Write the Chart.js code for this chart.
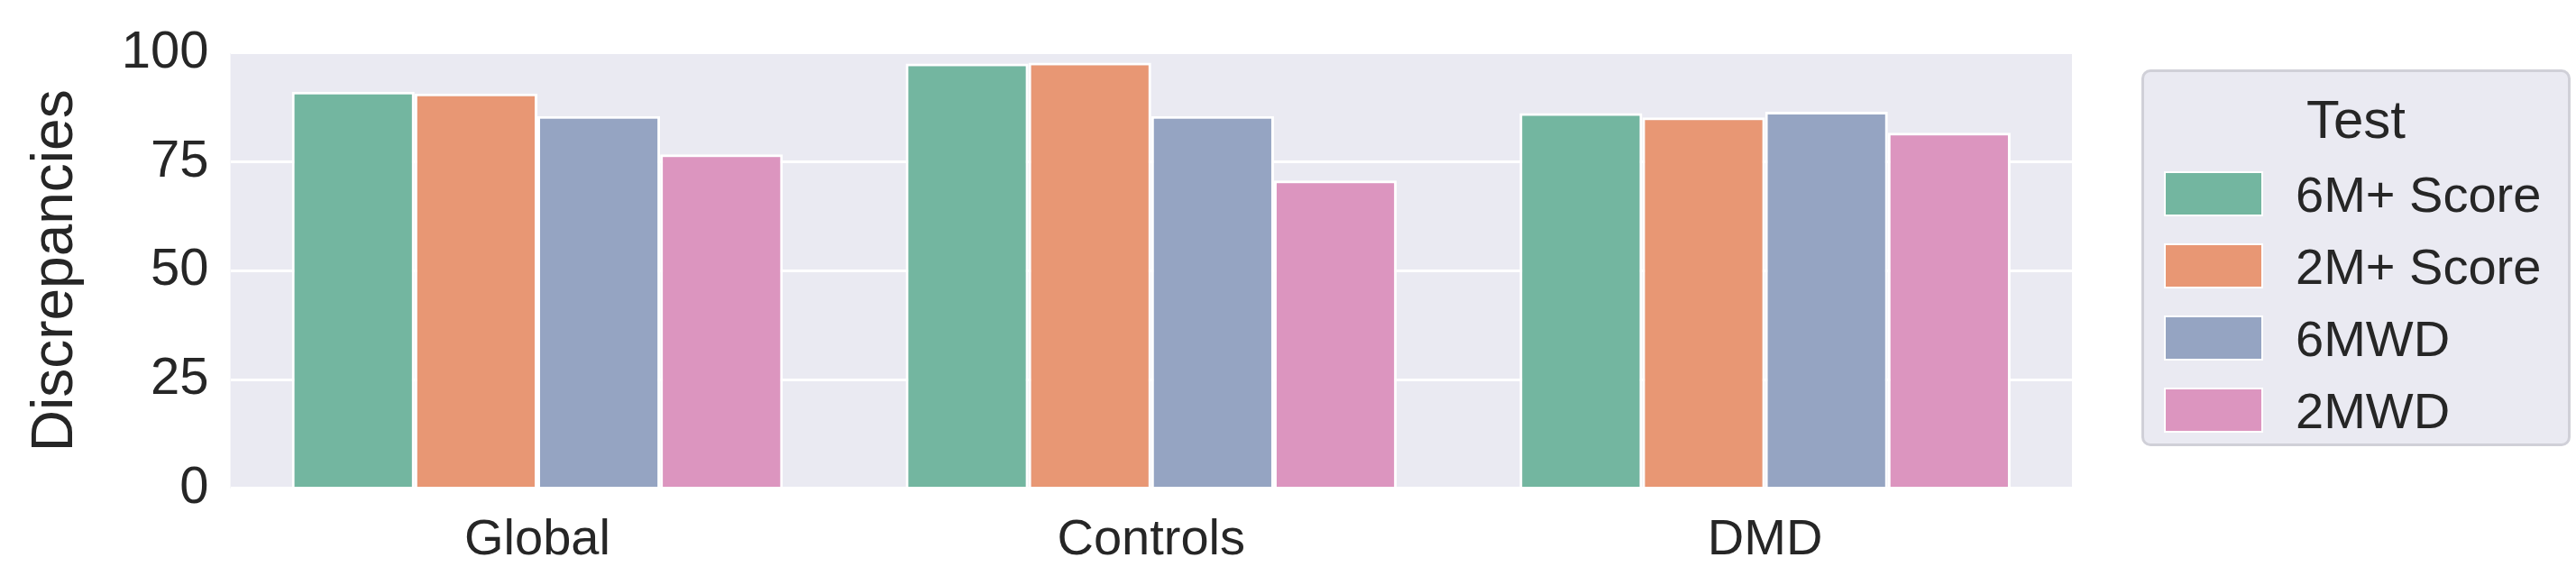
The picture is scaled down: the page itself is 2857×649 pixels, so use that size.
<!DOCTYPE html>
<html>
<head>
<script src="https://cdn.jsdelivr.net/npm/chart.js@4/dist/chart.umd.min.js"></script>
<style>
  body { margin: 0; background: #fff; }
  #wrap { position: relative; width: 2857px; height: 649px; }
  #legend {
    position: absolute; left: 2375px; top: 77px; width: 476px; height: 418px;
    box-sizing: border-box; border: 3px solid #d0d0d8; border-radius: 10px; background: #eaeaf2;
    font-family: "Liberation Sans", Arial, sans-serif; color: #262626; font-size: 56px;
  }
  #legend .title { text-align: center; font-size: 60px; margin-top: 18px; margin-bottom: 8px; }
  #legend .item { display: flex; align-items: center; height: 80px; padding-left: 22px; }
  #legend .sw { width: 110px; height: 50px; margin-right: 36px; border: 2px solid #fff; box-sizing: border-box; }
</style>
</head>
<body>
<div id="wrap">
  <canvas id="c" width="2857" height="649"></canvas>
  <div id="legend"></div>
</div>
<script>
const groups = ['Global', 'Controls', 'DMD'];
const tests = ['6M+ Score', '2M+ Score', '6MWD', '2MWD'];
const colors = ['#73b6a0', '#e89774', '#95a4c2', '#dc95bf'];
const score6 = [91.1, 97.6, 86.2];
const score2 = [90.7, 97.8, 85.2];
const mwd6 = [85.5, 85.5, 86.5];
const mwd2 = [76.7, 70.7, 81.7];
const yTicks = [0, 25, 50, 75, 100];

const series = [score6, score2, mwd6, mwd2];
const font = "'Liberation Sans', Arial, sans-serif";

// grey plot background like seaborn darkgrid
const plotBg = {
  id: 'plotBg',
  beforeDraw(chart) {
    const a = chart.chartArea, ctx = chart.ctx;
    ctx.save();
    ctx.fillStyle = '#eaeaf2';
    ctx.fillRect(a.left, a.top, a.right - a.left, a.bottom - a.top);
    ctx.restore();
  }
};

new Chart(document.getElementById('c'), {
  type: 'bar',
  data: {
    labels: groups,
    datasets: series.map((d, i) => ({
      label: tests[i],
      data: d,
      backgroundColor: colors[i],
      borderColor: '#ffffff',
      borderWidth: 3,
      categoryPercentage: 0.8,
      barPercentage: 1.0
    }))
  },
  options: {
    responsive: false,
    animation: false,
    devicePixelRatio: 1,
    layout: { padding: { top: 12, right: 559, bottom: 0, left: 14 } },
    plugins: { legend: { display: false }, tooltip: { enabled: false } },
    scales: {
      x: {
        grid: { display: false },
        border: { display: false },
        ticks: { color: '#262626', font: { family: font, size: 56 }, padding: 16 }
      },
      y: {
        min: 0, max: 100,
        afterBuildTicks: (s) => { s.ticks = yTicks.map(v => ({ value: v })); },
        grid: { color: '#ffffff', lineWidth: 3, drawTicks: false },
        border: { display: false },
        ticks: { color: '#262626', font: { family: font, size: 58 }, padding: 24 },
        title: { display: true, text: 'Discrepancies', color: '#262626', font: { family: font, size: 64 }, padding: 10 }
      }
    }
  },
  plugins: [plotBg]
});

const lg = document.getElementById('legend');
lg.innerHTML = '<div class="title">Test</div>' + tests.map((t, i) =>
  `<div class="item"><div class="sw" style="background:${colors[i]}"></div>${t}</div>`).join('');
</script>
</body>
</html>
